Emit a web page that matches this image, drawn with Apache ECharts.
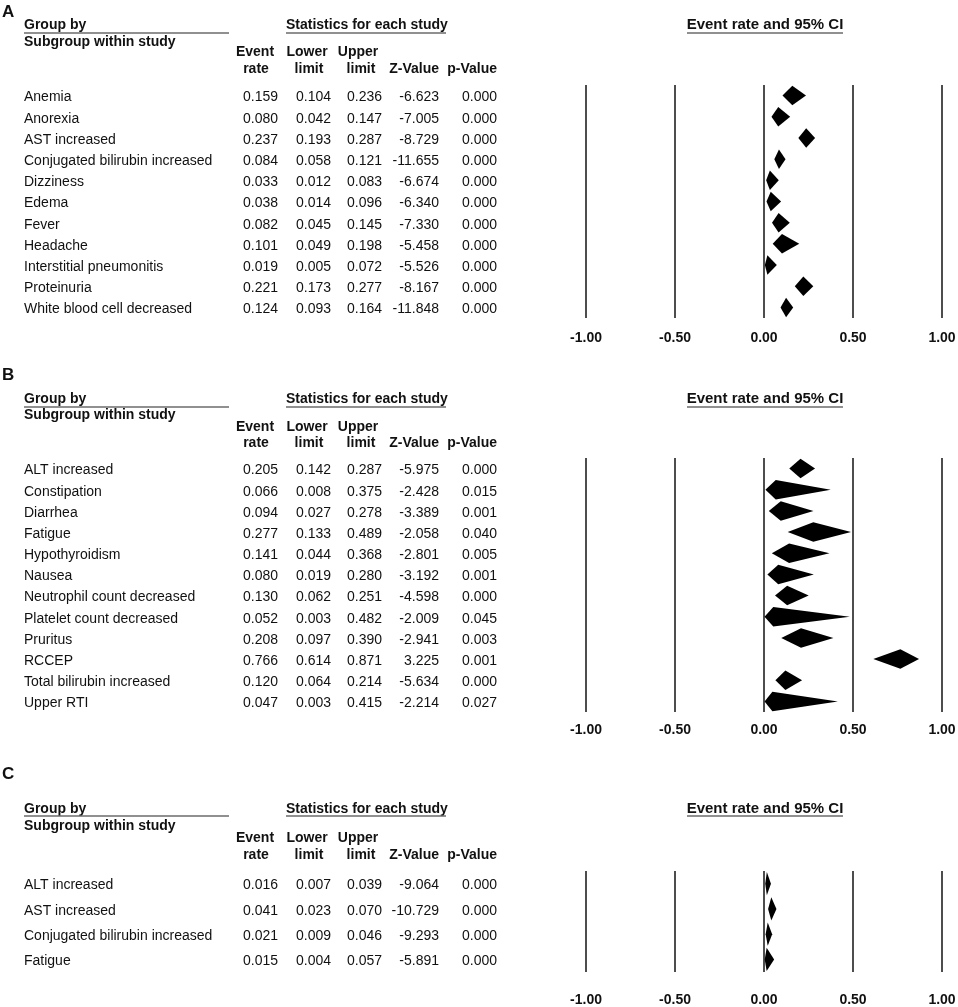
<!DOCTYPE html>
<html><head><meta charset="utf-8">
<script src="https://cdn.jsdelivr.net/npm/echarts@6/dist/echarts.min.js"></script>
<style>html,body{margin:0;padding:0;background:#fff}#c{width:958px;height:1007px}</style>
</head><body><div id="c"></div>
<script>
// ---------- DATA ----------
const labelsA = ['Anemia','Anorexia','AST increased','Conjugated bilirubin increased','Dizziness','Edema','Fever','Headache','Interstitial pneumonitis','Proteinuria','White blood cell decreased'];
const rateA  = [0.159,0.080,0.237,0.084,0.033,0.038,0.082,0.101,0.019,0.221,0.124];
const lowerA = [0.104,0.042,0.193,0.058,0.012,0.014,0.045,0.049,0.005,0.173,0.093];
const upperA = [0.236,0.147,0.287,0.121,0.083,0.096,0.145,0.198,0.072,0.277,0.164];
const zA     = [-6.623,-7.005,-8.729,-11.655,-6.674,-6.340,-7.330,-5.458,-5.526,-8.167,-11.848];
const pA     = [0.000,0.000,0.000,0.000,0.000,0.000,0.000,0.000,0.000,0.000,0.000];

const labelsB = ['ALT increased','Constipation','Diarrhea','Fatigue','Hypothyroidism','Nausea','Neutrophil count decreased','Platelet count decreased','Pruritus','RCCEP','Total bilirubin increased','Upper RTI'];
const rateB  = [0.205,0.066,0.094,0.277,0.141,0.080,0.130,0.052,0.208,0.766,0.120,0.047];
const lowerB = [0.142,0.008,0.027,0.133,0.044,0.019,0.062,0.003,0.097,0.614,0.064,0.003];
const upperB = [0.287,0.375,0.278,0.489,0.368,0.280,0.251,0.482,0.390,0.871,0.214,0.415];
const zB     = [-5.975,-2.428,-3.389,-2.058,-2.801,-3.192,-4.598,-2.009,-2.941,3.225,-5.634,-2.214];
const pB     = [0.000,0.015,0.001,0.040,0.005,0.001,0.000,0.045,0.003,0.001,0.000,0.027];

const labelsC = ['ALT increased','AST increased','Conjugated bilirubin increased','Fatigue'];
const rateC  = [0.016,0.041,0.021,0.015];
const lowerC = [0.007,0.023,0.009,0.004];
const upperC = [0.039,0.070,0.046,0.057];
const zC     = [-9.064,-10.729,-9.293,-5.891];
const pC     = [0.000,0.000,0.000,0.000];

const xMin = -1, xMax = 1, xStep = 0.5;
const headerGroup = 'Group by', headerSub = 'Subgroup within study';
const headerStats = 'Statistics for each study', headerPlot = 'Event rate and 95% CI';

// ---------- LAYOUT ----------
const FONT = '"Liberation Sans", Arial, Helvetica, sans-serif';
const INK = '#111';
const COLS = {label:24, rate:278, lower:331, upper:382, z:439, p:497};
const panels = [
  {letter:'A', labels:labelsA, rate:rateA, lower:lowerA, upper:upperA, z:zA, p:pA,
   top:85, bottom:318, letterY:12, groupY:25, lineY:33, subY:42, h1Y:52, h2Y:69, labelMargin:13},
  {letter:'B', labels:labelsB, rate:rateB, lower:lowerB, upper:upperB, z:zB, p:pB,
   top:458, bottom:712, letterY:375, groupY:399, lineY:407, subY:415, h1Y:427, h2Y:443, labelMargin:11},
  {letter:'C', labels:labelsC, rate:rateC, lower:lowerC, upper:upperC, z:zC, p:pC,
   top:871, bottom:972, letterY:774, groupY:809, lineY:816, subY:826, h1Y:838, h2Y:855, labelMargin:21}
];

function txt(x, y, s, opts) {
  return {type:'text', x:x, y:y, silent:true, style:Object.assign({
    text:s, fill:INK, fontFamily:FONT, fontSize:14, fontWeight:'bold',
    align:'left', verticalAlign:'middle'}, opts || {})};
}
function uline(x1, x2, y) {
  return {type:'line', silent:true, shape:{x1:x1, y1:y, x2:x2, y2:y}, style:{stroke:'#6b6b6b', lineWidth:1.5}};
}

const graphics = [];
panels.forEach(p => {
  graphics.push(txt(2, p.letterY, p.letter, {fontSize:17}));
  graphics.push(txt(24, p.groupY, headerGroup));
  graphics.push(uline(24, 229, p.lineY));
  graphics.push(txt(24, p.subY, headerSub));
  graphics.push(txt(286, p.groupY, headerStats));
  graphics.push(uline(286, 446, p.lineY));
  graphics.push(txt(255, p.h1Y, 'Event', {align:'center'}));
  graphics.push(txt(256, p.h2Y, 'rate', {align:'center'}));
  graphics.push(txt(307, p.h1Y, 'Lower', {align:'center'}));
  graphics.push(txt(309, p.h2Y, 'limit', {align:'center'}));
  graphics.push(txt(358, p.h1Y, 'Upper', {align:'center'}));
  graphics.push(txt(361, p.h2Y, 'limit', {align:'center'}));
  graphics.push(txt(439, p.h2Y, 'Z-Value', {align:'right'}));
  graphics.push(txt(497, p.h2Y, 'p-Value', {align:'right'}));
  graphics.push(txt(765, p.groupY, headerPlot, {align:'center', fontSize:15}));
  graphics.push(uline(687, 843, p.lineY));
});

const grids = [], xAxes = [], yAxes = [], series = [];
panels.forEach((p, i) => {
  grids.push({left:586, width:356, top:p.top, height:p.bottom - p.top, containLabel:false, outerBoundsMode:'none'});
  xAxes.push({gridIndex:i, type:'value', min:xMin, max:xMax, interval:xStep,
    axisLine:{show:false}, axisTick:{show:false},
    splitLine:{show:true, lineStyle:{color:'#4d4d4d', width:2}},
    axisLabel:{margin:p.labelMargin, fontFamily:FONT, fontWeight:'bold', fontSize:14, color:INK,
      formatter:v => v.toFixed(2)}});
  yAxes.push({gridIndex:i, type:'category', data:p.labels, inverse:true, show:false});

  series.push({
    type:'custom', xAxisIndex:i, yAxisIndex:i, silent:true, animation:false,
    data:p.labels.map((_, k) => [k, p.lower[k], p.rate[k], p.upper[k]]),
    encode:{x:[1,2,3], y:0},
    renderItem:(params, api) => {
      const k = api.value(0);
      const a = api.coord([api.value(1), k]);
      const m = api.coord([api.value(2), k]);
      const b = api.coord([api.value(3), k]);
      const h = api.size([0, 1])[1] * 0.92;
      return {type:'polygon', shape:{points:[[a[0], a[1]], [m[0], a[1] - h/2], [b[0], a[1]], [m[0], a[1] + h/2]]},
        style:{fill:'#000'}};
    }
  });

  series.push({
    type:'custom', xAxisIndex:i, yAxisIndex:i, silent:true, animation:false, clip:false,
    data:p.labels.map((_, k) => [0, k]),
    encode:{x:0, y:1},
    renderItem:(params, api) => {
      const k = api.value(1);
      const y = api.coord([0, k])[1] + 2;
      const base = {fill:INK, fontFamily:FONT, fontSize:14, fontWeight:'normal', verticalAlign:'middle'};
      const vals = [p.rate[k], p.lower[k], p.upper[k], p.z[k], p.p[k]];
      const xs = [COLS.rate, COLS.lower, COLS.upper, COLS.z, COLS.p];
      const children = [{type:'text', x:COLS.label, y:y, style:Object.assign({text:p.labels[k], align:'left'}, base)}];
      vals.forEach((v, j) => children.push({type:'text', x:xs[j], y:y,
        style:Object.assign({text:v.toFixed(3), align:'right'}, base)}));
      return {type:'group', children:children};
    }
  });
});

const chart = echarts.init(document.getElementById('c'), null, {renderer:'canvas'});
chart.setOption({
  backgroundColor:'#fff', animation:false,
  grid:grids, xAxis:xAxes, yAxis:yAxes, series:series, graphic:graphics
});
</script></body></html>
